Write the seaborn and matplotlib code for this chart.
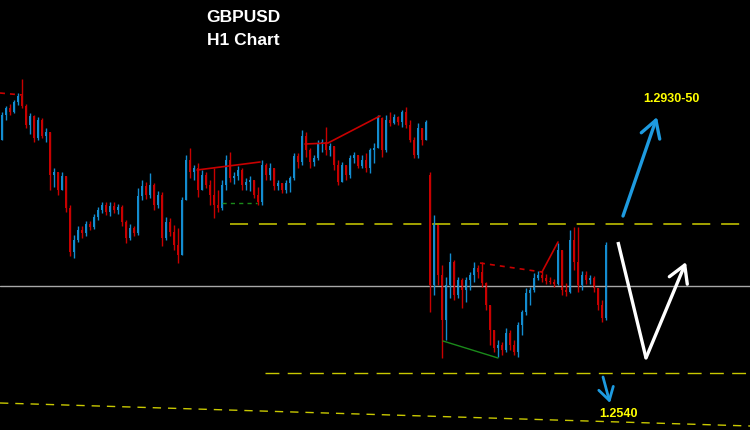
import numpy as np
import pandas as pd
import seaborn as sns
import matplotlib.pyplot as plt

# hourly candles (price levels are estimated)
closes = [1.2835, 1.2842, 1.2838, 1.2848, 1.2854, 1.2844, 1.2825, 1.2834, 1.2812, 1.2830,
          1.2814, 1.2818, 1.2775, 1.2778, 1.2760, 1.2774, 1.2742, 1.2698, 1.2710, 1.2720,
          1.2717, 1.2726, 1.2723, 1.2733, 1.2740, 1.2745, 1.2738, 1.2744, 1.2740, 1.2743,
          1.2728, 1.2712, 1.2722, 1.2717, 1.2754, 1.2764, 1.2755, 1.2765, 1.2745, 1.2755,
          1.2712, 1.2728, 1.2718, 1.2705, 1.2695, 1.2750, 1.2790, 1.2778, 1.2782, 1.2760,
          1.2775, 1.2765, 1.2755, 1.2745, 1.2742, 1.2765, 1.2790, 1.2772, 1.2774, 1.2780,
          1.2765, 1.2768, 1.2770, 1.2755, 1.2748, 1.2785, 1.2775, 1.2782, 1.2764, 1.2767,
          1.2760, 1.2767, 1.2772, 1.2794, 1.2788, 1.2814, 1.2800, 1.2788, 1.2792, 1.2807,
          1.2808, 1.2800, 1.2804, 1.2785, 1.2768, 1.2785, 1.2775, 1.2792, 1.2795, 1.2784,
          1.2790, 1.2782, 1.2800, 1.2802, 1.2832, 1.2800, 1.2830, 1.2827, 1.2833, 1.2828,
          1.2838, 1.2825, 1.2810, 1.2795, 1.2822, 1.2810, 1.2828, 1.2665, 1.2725, 1.2675,
          1.2630, 1.2665, 1.2688, 1.2655, 1.2670, 1.2660, 1.2670, 1.2675, 1.2682, 1.2678,
          1.2667, 1.2645, 1.2620, 1.2602, 1.2605, 1.2600, 1.2617, 1.2605, 1.2598, 1.2625,
          1.2638, 1.2657, 1.2660, 1.2672, 1.2675, 1.2672, 1.2669, 1.2668, 1.2666, 1.2700,
          1.2660, 1.2658, 1.2710, 1.2688, 1.2665, 1.2675, 1.2670, 1.2672, 1.2662, 1.2645,
          1.2632, 1.2705]

highs = [1.2838, 1.2844, 1.2846, 1.2850, 1.2857, 1.2871, 1.2846, 1.2837, 1.2835, 1.2833,
         1.2832, 1.2822, 1.2818, 1.2782, 1.2778, 1.2778, 1.2774, 1.2745, 1.2715, 1.2724,
         1.2724, 1.2729, 1.2729, 1.2736, 1.2743, 1.2748, 1.2748, 1.2748, 1.2748, 1.2746,
         1.2745, 1.2730, 1.2726, 1.2724, 1.2762, 1.2770, 1.2768, 1.2777, 1.2767, 1.2759,
         1.2758, 1.2733, 1.2732, 1.2725, 1.2722, 1.2753, 1.2795, 1.2802, 1.2785, 1.2787,
         1.2780, 1.2778, 1.2770, 1.2782, 1.2760, 1.2770, 1.2795, 1.2798, 1.2778, 1.2784,
         1.2782, 1.2772, 1.2774, 1.2770, 1.2763, 1.2790, 1.2787, 1.2787, 1.2782, 1.2770,
         1.2767, 1.2770, 1.2774, 1.2797, 1.2797, 1.2820, 1.2818, 1.2802, 1.2795, 1.2810,
         1.2811, 1.2823, 1.2807, 1.2804, 1.2790, 1.2788, 1.2785, 1.2795, 1.2798, 1.2795,
         1.2795, 1.2797, 1.2802, 1.2807, 1.2835, 1.2833, 1.2835, 1.2838, 1.2836, 1.2834,
         1.2840, 1.2843, 1.2830, 1.2813, 1.2827, 1.2822, 1.2830, 1.2778, 1.2735, 1.2725,
         1.2685, 1.2673, 1.2697, 1.2690, 1.2673, 1.2672, 1.2673, 1.2678, 1.2688, 1.2685,
         1.2688, 1.2668, 1.2645, 1.2620, 1.2610, 1.2608, 1.2622, 1.2620, 1.2610, 1.2628,
         1.2640, 1.2662, 1.2663, 1.2677, 1.2679, 1.2679, 1.2676, 1.2673, 1.2671, 1.2707,
         1.2700, 1.2667, 1.2720, 1.2723, 1.2723, 1.2679, 1.2679, 1.2675, 1.2674, 1.2662,
         1.2650, 1.2708]

lows = [1.2810, 1.2830, 1.2835, 1.2837, 1.2845, 1.2842, 1.2822, 1.2816, 1.2808, 1.2810,
        1.2812, 1.2808, 1.2760, 1.2763, 1.2755, 1.2760, 1.2738, 1.2694, 1.2692, 1.2708,
        1.2712, 1.2714, 1.2720, 1.2721, 1.2730, 1.2737, 1.2735, 1.2734, 1.2737, 1.2736,
        1.2724, 1.2707, 1.2710, 1.2714, 1.2715, 1.2750, 1.2751, 1.2752, 1.2740, 1.2742,
        1.2704, 1.2710, 1.2714, 1.2700, 1.2687, 1.2695, 1.2750, 1.2772, 1.2770, 1.2753,
        1.2760, 1.2762, 1.2745, 1.2732, 1.2738, 1.2740, 1.2760, 1.2768, 1.2766, 1.2770,
        1.2760, 1.2760, 1.2759, 1.2752, 1.2745, 1.2745, 1.2770, 1.2770, 1.2760, 1.2760,
        1.2757, 1.2757, 1.2758, 1.2770, 1.2782, 1.2785, 1.2793, 1.2782, 1.2784, 1.2790,
        1.2798, 1.2795, 1.2794, 1.2780, 1.2765, 1.2768, 1.2770, 1.2772, 1.2787, 1.2782,
        1.2782, 1.2778, 1.2777, 1.2787, 1.2802, 1.2793, 1.2798, 1.2824, 1.2826, 1.2825,
        1.2823, 1.2822, 1.2808, 1.2792, 1.2792, 1.2805, 1.2810, 1.2638, 1.2655, 1.2665,
        1.2592, 1.2610, 1.2652, 1.2650, 1.2652, 1.2642, 1.2648, 1.2660, 1.2668, 1.2672,
        1.2663, 1.2640, 1.2605, 1.2598, 1.2593, 1.2595, 1.2598, 1.2600, 1.2595, 1.2593,
        1.2615, 1.2635, 1.2645, 1.2658, 1.2670, 1.2668, 1.2666, 1.2666, 1.2663, 1.2665,
        1.2655, 1.2654, 1.2657, 1.2680, 1.2658, 1.2660, 1.2666, 1.2666, 1.2658, 1.2640,
        1.2628, 1.2630]

first_open = 1.2810
gap_index = 107      # weekend gap candle
gap_open = 1.2775

# levels and drawings (x = candle number, y = price)
pivot_level = 1.2664
upper_level = 1.2726
lower_level = 1.2577
channel_x = [-0.5, 187]
channel_y = [1.2547, 1.2524]
red_dash_1 = ([-0.5, 5], [1.2857, 1.2855])
red_line_1 = ([48.75, 64.5], [1.2780, 1.2788])
red_line_2 = ([75.75, 81.5, 94.5], [1.2806, 1.2807, 1.2834])
green_dash = ([55, 63.75], [1.2747, 1.2747])
red_dash_2 = ([119.5, 135], [1.2687, 1.2678])
red_line_3 = ([135, 139], [1.2678, 1.2708])
green_line = ([110.25, 124], [1.2609, 1.2592])
up_arrow = ([155.25, 163.75], [1.2734, 1.2833])
v_path = ([154, 161, 171], [1.2708, 1.2592, 1.2688])
down_arrow = ([150.25, 152], [1.2573, 1.2547])
target_up = (167.25, 1.2851, '1.2930-50')
target_down = (154.25, 1.2536, '1.2540')

df = pd.DataFrame({'close': closes, 'high': highs, 'low': lows})
assert len(df) == 152
df['open'] = df['close'].shift(1)
df.loc[0, 'open'] = first_open
df.loc[gap_index, 'open'] = gap_open
df['x'] = np.arange(len(df))
df['bull'] = df['close'] >= df['open']

sns.set_style('dark', {'axes.facecolor': 'black', 'figure.facecolor': 'black'})

fig = plt.figure(figsize=(7.5, 4.3), dpi=100)
ax = fig.add_axes([0, 0, 1, 1])
ax.set_facecolor('black')

blue = '#138cd0'
red = '#c80000'
cols = np.where(df['bull'], blue, red)

# levels drawn first, candles over them
ax.axhline(pivot_level, color='#a8a8a8', lw=1.0)
ax.plot([57, 187], [upper_level, upper_level], color='#b0b000', lw=1.3, dashes=(10, 6))
ax.plot([65.75, 187], [lower_level, lower_level], color='#c8c800', lw=1.0, dashes=(10, 6))
ax.plot(channel_x, channel_y, color='#c8c800', lw=1.0, dashes=(6, 5))

ax.vlines(df['x'], df['low'], df['high'], colors=cols, lw=1.0)
body_lo = df[['open', 'close']].min(axis=1)
body_h = (df['close'] - df['open']).abs().clip(lower=0.0001)
ax.bar(df['x'], body_h, bottom=body_lo, width=0.72, color=cols, linewidth=0)

# trend lines
sns.lineplot(x=red_dash_1[0], y=red_dash_1[1], ax=ax, color=red, lw=1.2, linestyle=(0, (3, 3)))
sns.lineplot(x=red_line_1[0], y=red_line_1[1], ax=ax, color=red, lw=1.2)
ax.plot(*red_line_2, color=red, lw=1.2)
sns.lineplot(x=green_dash[0], y=green_dash[1], ax=ax, color='#1a8a1a', lw=1.0, linestyle=(0, (3, 3)))
sns.lineplot(x=red_dash_2[0], y=red_dash_2[1], ax=ax, color=red, lw=1.2, linestyle=(0, (3, 3)))
sns.lineplot(x=red_line_3[0], y=red_line_3[1], ax=ax, color=red, lw=1.2)
sns.lineplot(x=green_line[0], y=green_line[1], ax=ax, color='#1a8a1a', lw=1.0)

# scenario arrows
head = '->,head_length=0.6,head_width=0.35'
ax.annotate('', xy=(up_arrow[0][1], up_arrow[1][1]), xytext=(up_arrow[0][0], up_arrow[1][0]),
            arrowprops=dict(arrowstyle=head, color='#1e9be0', lw=2.4, mutation_scale=20,
                            shrinkA=0, shrinkB=0))
ax.plot(v_path[0][:2], v_path[1][:2], color='white', lw=2.4, solid_capstyle='butt')
ax.annotate('', xy=(v_path[0][2], v_path[1][2]), xytext=(v_path[0][1], v_path[1][1]),
            arrowprops=dict(arrowstyle=head, color='white', lw=2.4, mutation_scale=20,
                            shrinkA=0, shrinkB=0))
ax.annotate('', xy=(down_arrow[0][1], down_arrow[1][1]), xytext=(down_arrow[0][0], down_arrow[1][0]),
            arrowprops=dict(arrowstyle='->,head_length=0.5,head_width=0.3', color='#1e9be0', lw=2.0,
                            mutation_scale=18, shrinkA=0, shrinkB=0))

for tx, ty, label in [target_up, target_down]:
    ax.text(tx, ty, label, color='#ffff00', fontsize=9, fontweight='bold',
            ha='center', va='center', family='Liberation Sans')

fig.text(0.324, 0.960, 'GBPUSD', color='white', fontsize=12.5, fontweight='bold',
         ha='center', va='center', family='Liberation Sans')
fig.text(0.324, 0.905, 'H1 Chart', color='white', fontsize=12.5, fontweight='bold',
         ha='center', va='center', family='Liberation Sans')

ax.set_xlim(-0.5, 187)
ax.set_ylim(1.2520, 1.2950)
ax.axis('off')
if ax.get_legend():
    ax.get_legend().remove()

fig.savefig('out.png', dpi=100, facecolor='black')
